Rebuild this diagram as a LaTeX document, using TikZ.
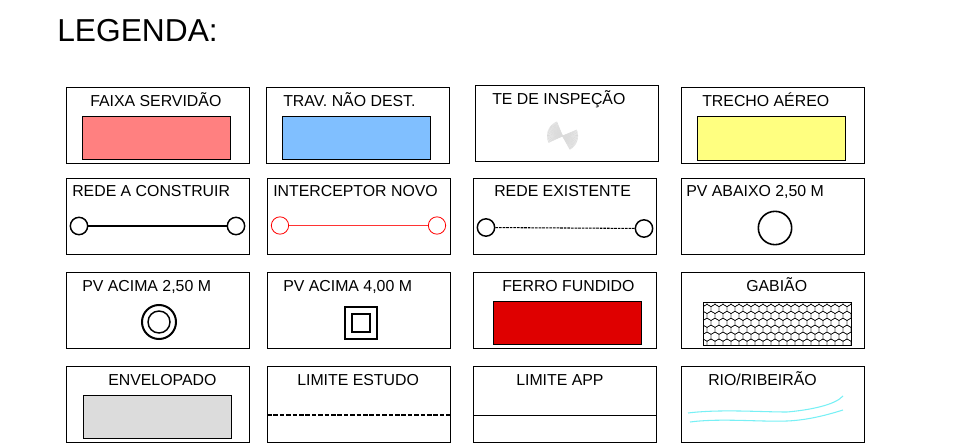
\documentclass[tikz,border=0pt]{standalone}
\usepackage{fontspec}
\setmainfont{Liberation Sans}
\definecolor{faixa}{RGB}{255,128,128}
\definecolor{trav}{RGB}{128,191,255}
\definecolor{trecho}{RGB}{255,255,128}
\definecolor{ferro}{RGB}{223,0,0}
\definecolor{envelope}{RGB}{220,220,220}
\definecolor{rio}{RGB}{120,240,245}
\begin{document}
\begin{tikzpicture}[x=0.75pt, y=-0.75pt,
        caixa/.style={rectangle, draw=black, line width=0.7pt, minimum width=137.6pt, minimum height=57pt, inner sep=0pt},
        rotulo/.style={font=\fontsize{11.9}{14}\selectfont, inner sep=0pt, anchor=base west},
        amostra/.style={rectangle, draw=black, line width=0.5pt, minimum width=111pt, minimum height=32.5pt, inner sep=0pt},
        pv/.style={circle, draw=black, line width=1.1pt, minimum size=13pt, inner sep=0pt, fill=white}]
    \useasboundingbox (0, 0) rectangle (980, 445);

    \node[font=\fontsize{23.8}{28}\selectfont, inner sep=0pt, anchor=base west] (titulo) at (57, 42) {LEGENDA:};

    % linha 1
    \node[caixa] (c1) at (158, 125) {};
    \node[caixa] (c2) at (358, 125) {};
    \node[caixa] (c3) at (567, 123) {};
    \node[caixa] (c4) at (773, 125) {};
    % linha 2
    \node[caixa] (c5) at (158, 216) {};
    \node[caixa] (c6) at (359, 216) {};
    \node[caixa] (c7) at (565, 216) {};
    \node[caixa] (c8) at (773, 216) {};
    % linha 3
    \node[caixa] (c9) at (158, 310.5) {};
    \node[caixa] (c10) at (359, 310.5) {};
    \node[caixa] (c11) at (565, 310.5) {};
    \node[caixa] (c12) at (773, 310.5) {};
    % linha 4
    \node[caixa] (c13) at (158, 404) {};
    \node[caixa] (c14) at (359, 404) {};
    \node[caixa] (c15) at (565, 404) {};
    \node[caixa] (c16) at (773, 404) {};

    \node[rotulo] (t1) at (90, 106.5) {FAIXA SERVIDÃO};
    \node[rotulo] (t2) at (283, 106.5) {TRAV. NÃO DEST.};
    \node[rotulo] (t3) at (492, 104.5) {TE DE INSPEÇÃO};
    \node[rotulo] (t4) at (702, 106.5) {TRECHO AÉREO};
    \node[rotulo] (t5) at (72, 196.5) {REDE A CONSTRUIR};
    \node[rotulo] (t6) at (273, 196.5) {INTERCEPTOR NOVO};
    \node[rotulo] (t7) at (494, 196.5) {REDE EXISTENTE};
    \node[rotulo] (t8) at (686, 196.5) {PV ABAIXO 2,50 M};
    \node[rotulo] (t9) at (82, 291.5) {PV ACIMA 2,50 M};
    \node[rotulo] (t10) at (283, 291.5) {PV ACIMA 4,00 M};
    \node[rotulo] (t11) at (502, 291.5) {FERRO FUNDIDO};
    \node[rotulo] (t12) at (746, 291.5) {GABIÃO};
    \node[rotulo] (t13) at (108, 385.5) {ENVELOPADO};
    \node[rotulo] (t14) at (297, 385.5) {LIMITE ESTUDO};
    \node[rotulo] (t15) at (516, 385.5) {LIMITE APP};
    \node[rotulo] (t16) at (708, 385.5) {RIO/RIBEIRÃO};

    \node[amostra, fill=faixa] (a1) at (156, 138) {};
    \node[amostra, fill=trav] (a2) at (356.5, 138) {};
    \node[amostra, fill=trecho] (a4) at (771, 138.5) {};
    \node[amostra, fill=ferro] (a11) at (567, 323) {};
    \node[amostra, fill=envelope] (a13) at (157, 416.5) {};

    % te de inspecao
    \coordinate (te) at (562.5, 136);
    \foreach \ang in {155, 158, ..., 249, -23, -20, ..., 62}
        \draw[black!14, line width=0.45pt] (te) -- ++(\ang:15.5);

    % redes
    \node[pv] (r1) at (79, 226) {};
    \node[pv] (r2) at (236, 226) {};
    \draw[line width=1pt] (r1) -- (r2);
    \node[pv, draw=red, line width=0.6pt] (r3) at (280, 225.5) {};
    \node[pv, draw=red, line width=0.6pt] (r4) at (437, 225.5) {};
    \draw[red!80, line width=0.6pt] (r3) -- (r4);
    \node[pv] (r5) at (486, 227.5) {};
    \node[pv] (r6) at (644, 228.5) {};
    \draw[line width=0.8pt, dash pattern=on 2pt off 0.7pt] (r5) -- (r6);

    % pocos de visita
    \node[circle, draw=black, line width=1.2pt, minimum size=25pt, inner sep=0pt] (p1) at (775, 228) {};
    \node[circle, draw=black, line width=1.5pt, minimum size=25.5pt, inner sep=0pt] (p2) at (159, 322) {};
    \node[circle, draw=black, line width=1.1pt, minimum size=16.5pt, inner sep=0pt] (p3) at (159, 322) {};
    \node[rectangle, draw=black, line width=1.4pt, minimum size=23.5pt, inner sep=0pt] (p4) at (361, 323) {};
    \node[rectangle, draw=black, line width=1.2pt, minimum size=13.5pt, inner sep=0pt] (p5) at (361, 323) {};

    % gabiao
    \begin{scope}
        \clip (703, 302) rectangle (851, 345);
        \foreach \lin in {0, ..., 6}
            \foreach \col in {0, ..., 19} {
                \pgfmathsetmacro{\cx}{703 + \col*8 + mod(\lin,2)*4}
                \pgfmathsetmacro{\cy}{302 + \lin*6.93}
                \draw[line width=0.35pt] (\cx, \cy-4.62) -- (\cx+4, \cy-2.31) -- (\cx+4, \cy+2.31) -- (\cx, \cy+4.62) -- (\cx-4, \cy+2.31) -- (\cx-4, \cy-2.31) -- cycle;
            }
    \end{scope}
    \node[rectangle, draw=black, line width=0.5pt, minimum width=111pt, minimum height=32.2pt, inner sep=0pt] (a12) at (777, 323.5) {};

    % limites
    \coordinate (l1) at (267, 415);
    \coordinate (l2) at (451, 415);
    \draw[line width=1.3pt, dash pattern=on 3.4pt off 1.4pt] (l1) -- (l2);
    \coordinate (l3) at (473, 415);
    \coordinate (l4) at (657, 415);
    \draw[line width=0.5pt] (l3) -- (l4);

    % rio
    \draw[rio, line width=0.8pt] (688, 413) .. controls (720, 409) and (760, 412) .. (787, 412) .. controls (810, 410) and (835, 405) .. (843, 396);
    \draw[rio, line width=0.8pt] (690, 422) .. controls (720, 418) and (760, 422) .. (787, 421) .. controls (810, 420) and (830, 414) .. (843, 410);
\end{tikzpicture}
\end{document}
